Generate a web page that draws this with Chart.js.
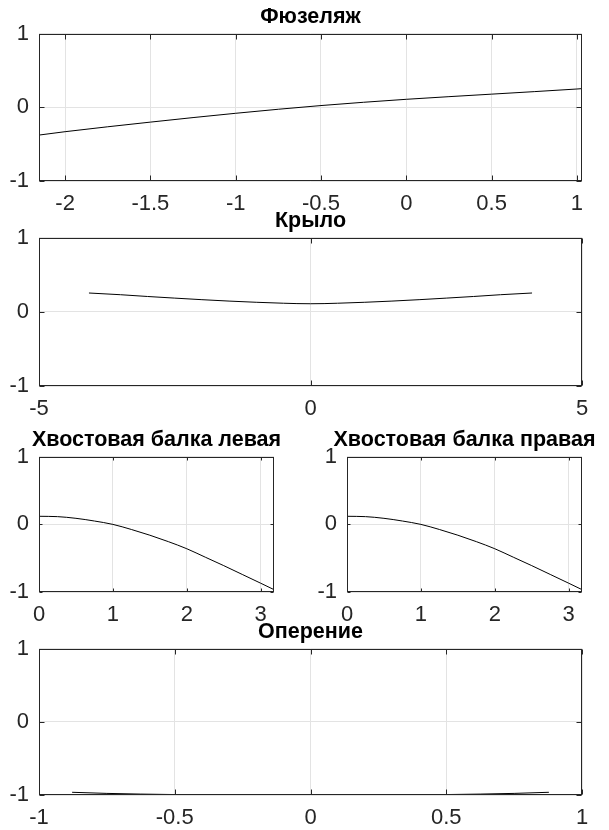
<!DOCTYPE html>
<html><head><meta charset="utf-8">
<script src="https://cdn.jsdelivr.net/npm/chart.js@4"></script>
<style>
html,body{margin:0;padding:0;background:#fff;width:609px;height:830px;overflow:hidden;position:relative}
canvas{position:absolute}
</style></head><body>
<canvas id="c1"></canvas>
<canvas id="c2"></canvas>
<canvas id="c3"></canvas>
<canvas id="c4"></canvas>
<canvas id="c5"></canvas>
<script>
// ---- data ----
const yTicks = [-1, 0, 1];

const fuselageTitle = 'Фюзеляж';
const fuselageX = [-2.15, -2, -1.5, -1, -0.5, 0, 0.5, 1, 1.03];
const fuselageY = [-0.375, -0.33, -0.2, -0.08, 0.025, 0.11, 0.18, 0.25, 0.255];
const fuselageXTicks = [-2, -1.5, -1, -0.5, 0, 0.5, 1];

const wingTitle = 'Крыло';
const wingX = [-4.08, -3.5, -3, -2.5, -2, -1.5, -1, -0.5, -0.25, 0, 0.25, 0.5, 1, 1.5, 2, 2.5, 3, 3.5, 4.08];
const wingY = [0.255, 0.232, 0.208, 0.186, 0.165, 0.146, 0.13, 0.117, 0.112, 0.11, 0.112, 0.117, 0.13, 0.146, 0.165, 0.186, 0.208, 0.232, 0.255];
const wingXTicks = [-5, 0, 5];

const boomLeftTitle = 'Хвостовая балка левая';
const boomRightTitle = 'Хвостовая балка правая';
const boomX = [0, 0.25, 0.5, 0.75, 1, 1.25, 1.5, 1.75, 2, 2.25, 2.5, 2.75, 3, 3.18];
const boomLeftY = [0.12, 0.115, 0.09, 0.05, 0.0, -0.075, -0.16, -0.255, -0.36, -0.485, -0.61, -0.74, -0.87, -0.965];
const boomRightY = [0.12, 0.115, 0.09, 0.05, 0.0, -0.075, -0.16, -0.255, -0.36, -0.485, -0.61, -0.74, -0.87, -0.965];
const boomXTicks = [0, 1, 2, 3];

const tailTitle = 'Оперение';
const tailX = [-0.878, -0.75, -0.5, -0.25, 0, 0.25, 0.5, 0.75, 0.878];
const tailY = [-0.963, -0.978, -0.994, -0.999, -1.0, -0.999, -0.994, -0.978, -0.963];
const tailXTicks = [-1, -0.5, 0, 0.5, 1];

// ---- drawing ----
const FONT = "'Liberation Sans', Arial, sans-serif";

const framePlugin = {
  id: 'frame',
  afterDraw(chart, args, opts) {
    const {ctx, chartArea: a, scales: {x, y}} = chart;
    const L = Math.round(a.left) + 0.5, R = Math.round(a.right) - 0.5;
    const T = Math.round(a.top) + 0.5, B = Math.round(a.bottom) - 0.5;
    ctx.save();
    ctx.strokeStyle = '#262626';
    ctx.lineWidth = 1;
    ctx.strokeRect(L, T, R - L, B - T);
    const len = opts.len || 5;
    ctx.beginPath();
    x.ticks.forEach(t => {
      const px = Math.round(x.getPixelForValue(t.value)) + 0.5;
      ctx.moveTo(px, B); ctx.lineTo(px, B - len);
      ctx.moveTo(px, T); ctx.lineTo(px, T + len);
    });
    y.ticks.forEach(t => {
      const py = Math.round(y.getPixelForValue(t.value)) + 0.5;
      ctx.moveTo(L, py); ctx.lineTo(L + len, py);
      ctx.moveTo(R, py); ctx.lineTo(R - len, py);
    });
    ctx.stroke();
    ctx.restore();
  }
};

function makeChart(id, cfg) {
  const cv = document.getElementById(id);
  cv.width = cfg.width; cv.height = cfg.height;
  cv.style.left = cfg.left + 'px'; cv.style.top = cfg.top + 'px';
  const pts = cfg.xs.map((x, i) => ({x: x, y: cfg.ys[i]}));
  return new Chart(cv, {
    type: 'line',
    data: {datasets: [{
      data: pts, borderColor: '#000', borderWidth: 1, pointRadius: 0,
      cubicInterpolationMode: 'monotone', fill: false
    }]},
    options: {
      responsive: false, animation: false, devicePixelRatio: 1,
      layout: {padding: 0},
      plugins: {
        legend: {display: false}, tooltip: {enabled: false},
        title: {display: true, text: cfg.title, color: '#000',
          font: {family: FONT, size: 21.5, weight: 'bold', lineHeight: 1.2},
          padding: {top: 4, bottom: 4}},
        frame: {len: cfg.tickLen}
      },
      scales: {
        x: {
          type: 'linear', min: cfg.xMin, max: cfg.xMax,
          afterBuildTicks: s => { s.ticks = cfg.xTicks.map(v => ({value: v})); },
          afterFit: s => { s.height = 35; },
          grid: {color: '#e3e3e3', lineWidth: 1, drawTicks: false},
          border: {display: false},
          ticks: {padding: 10, color: '#262626', font: {family: FONT, size: 22},
            maxRotation: 0, autoSkip: false, callback: v => String(v)}
        },
        y: {
          type: 'linear', min: -1, max: 1,
          afterBuildTicks: s => { s.ticks = yTicks.map(v => ({value: v})); },
          afterFit: s => { s.width = 39; },
          grid: {color: '#e3e3e3', lineWidth: 1, drawTicks: false},
          border: {display: false},
          ticks: {padding: 10, color: '#262626', font: {family: FONT, size: 22},
            callback: v => String(v)}
        },
        y2: {
          type: 'linear', position: 'right', min: -1, max: 1,
          afterFit: s => { s.width = 39; },
          grid: {display: false, drawTicks: false},
          border: {display: false},
          ticks: {display: false}
        }
      }
    },
    plugins: [framePlugin]
  });
}

makeChart('c1', {title: fuselageTitle, xs: fuselageX, ys: fuselageY, xMin: -2.153, xMax: 1.03,
  xTicks: fuselageXTicks, left: 0, top: 0, width: 621, height: 216, tickLen: 5});
makeChart('c2', {title: wingTitle, xs: wingX, ys: wingY, xMin: -5, xMax: 5,
  xTicks: wingXTicks, left: 0, top: 204, width: 621, height: 217, tickLen: 5});
makeChart('c3', {title: boomLeftTitle, xs: boomX, ys: boomLeftY, xMin: 0, xMax: 3.18,
  xTicks: boomXTicks, left: 0, top: 423, width: 313, height: 204, tickLen: 3});
makeChart('c4', {title: boomRightTitle, xs: boomX, ys: boomRightY, xMin: 0, xMax: 3.18,
  xTicks: boomXTicks, left: 308, top: 423, width: 313, height: 204, tickLen: 3});
makeChart('c5', {title: tailTitle, xs: tailX, ys: tailY, xMin: -1, xMax: 1,
  xTicks: tailXTicks, left: 0, top: 615, width: 621, height: 215, tickLen: 5});
</script>
</body></html>
